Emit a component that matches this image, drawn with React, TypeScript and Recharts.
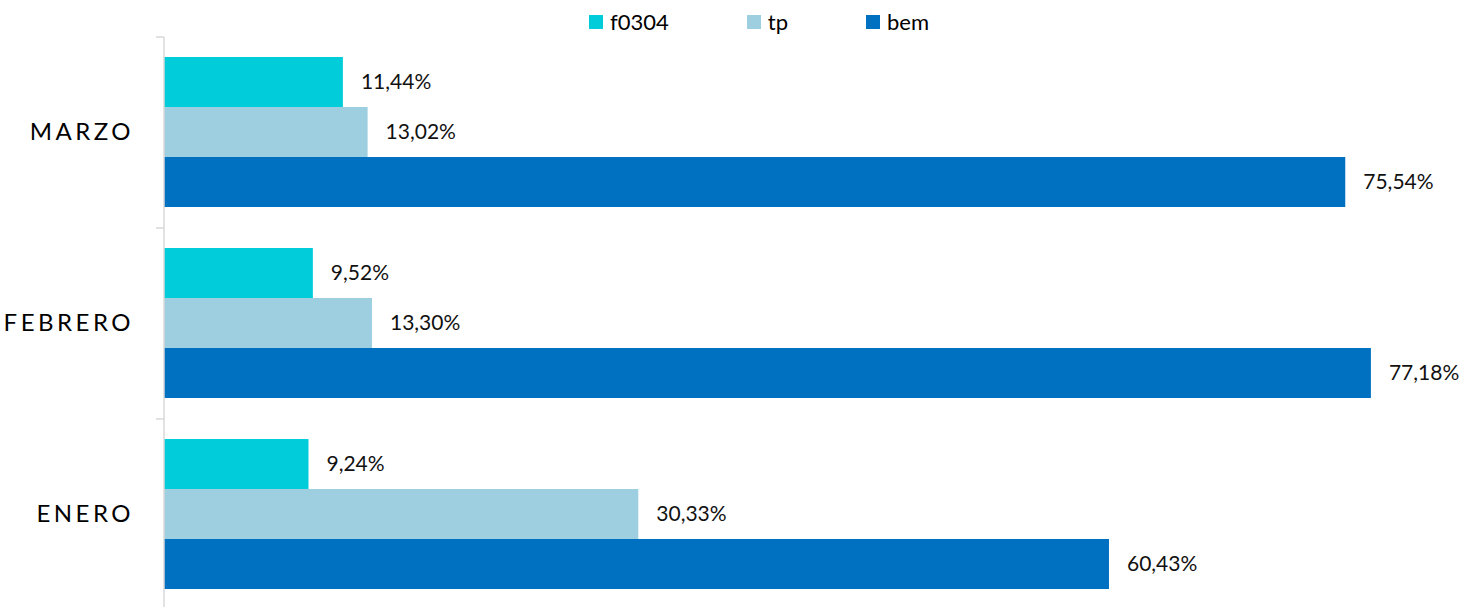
import { BarChart, Bar, XAxis, YAxis, LabelList, Legend } from 'recharts';

const months = ['MARZO', 'FEBRERO', 'ENERO'];
const f0304 = [11.44, 9.52, 9.24];
const tp = [13.02, 13.3, 30.33];
const bem = [75.54, 77.18, 60.43];

const seriesNames = ['f0304', 'tp', 'bem'];
const seriesColors = ['#00CDD9', '#9DCFE1', '#0070C0'];

const data = months.map((m, i) => ({ name: m, f0304: f0304[i], tp: tp[i], bem: bem[i] }));

const FONT = 'Lato, "DejaVu Sans", sans-serif';

const fmt = (v: any) => `${Number(v).toFixed(2).replace('.', ',')}%`;

function MonthTick(props: any) {
  const { x, y, payload } = props;
  const half = payload?.offset ?? 0;
  return (
    <g>
      <line x1={x} x2={x + 8} y1={y - half} y2={y - half} stroke="#D9D9D9" strokeWidth={1.5} />
      <text
        x={x - 22}
        y={y - 2}
        textAnchor="end"
        dominantBaseline="central"
        fontFamily={FONT}
        fontSize={24}
        letterSpacing={3.5}
        fill="#000"
      >
        {payload.value}
      </text>
    </g>
  );
}

function LegendRow() {
  return (
    <div style={{ display: 'flex', alignItems: 'center', fontFamily: FONT, fontSize: 22, color: '#000' }}>
      {seriesNames.map((n, i) => (
        <div key={n} style={{ display: 'flex', alignItems: 'center', marginRight: 78 }}>
          <span style={{ width: 14, height: 14, background: seriesColors[i], display: 'inline-block', marginRight: 7 }} />
          <span>{n}</span>
        </div>
      ))}
    </div>
  );
}

export default function App() {
  return (
    <div style={{ position: 'absolute', left: 0, top: 0, width: 1479, height: 607, overflow: 'hidden', background: '#fff' }}>
      <BarChart
        width={1479}
        height={610}
        data={data}
        layout="vertical"
        margin={{ top: 37, right: 64, bottom: 0, left: 0 }}
        barCategoryGap={20}
        barGap={0}
      >
        <XAxis type="number" domain={[0, 80]} hide />
        <YAxis
          type="category"
          dataKey="name"
          width={164}
          axisLine={{ stroke: '#D9D9D9', strokeWidth: 1.5 }}
          tickLine={false}
          tickSize={8}
          tickMargin={0}
          tick={<MonthTick />}
        />
        <Legend
          verticalAlign="middle"
          align="center"
          layout="horizontal"
          wrapperStyle={{ top: 8, left: 589, width: 'auto' }}
          content={() => <LegendRow />}
        />
        {seriesNames.map((n, i) => (
          <Bar key={n} dataKey={n} fill={seriesColors[i]} isAnimationActive={false}>
            <LabelList
              dataKey={n}
              position="right"
              offset={18}
              formatter={fmt}
              style={{ fontFamily: FONT, fontSize: 21, fill: '#111' }}
            />
          </Bar>
        ))}
      </BarChart>
    </div>
  );
}
